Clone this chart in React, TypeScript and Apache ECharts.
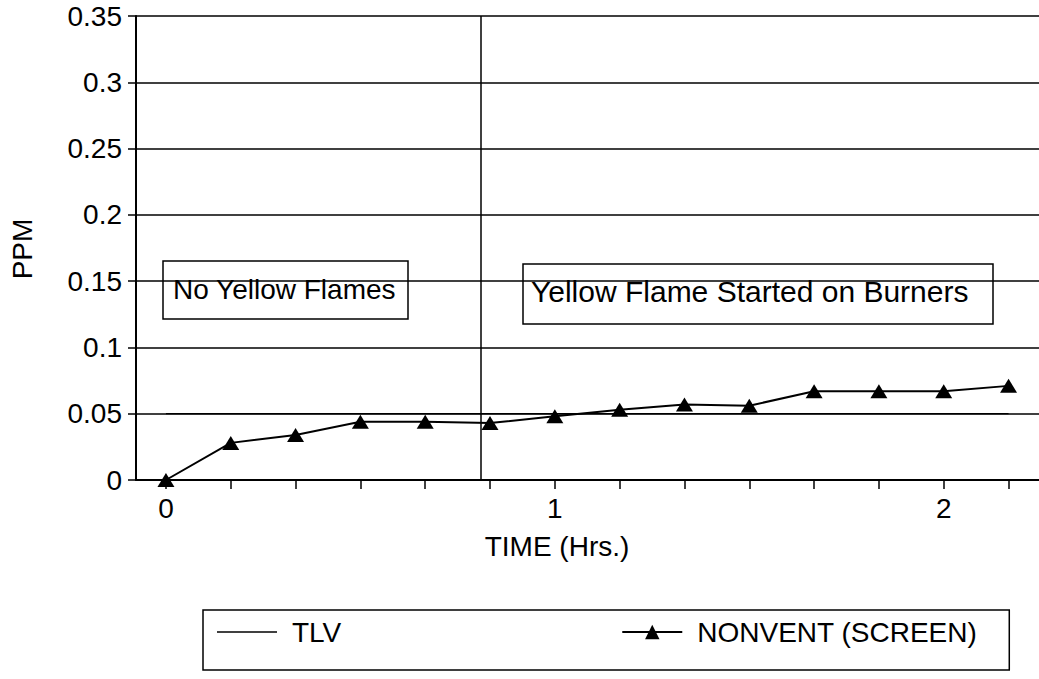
import React, { useEffect, useRef } from "react";
import * as echarts from "echarts";

// Elapsed time in hours (10-minute readings)
const timeHrs = [0, 0.1667, 0.3333, 0.5, 0.6667, 0.8333, 1, 1.1667, 1.3333, 1.5, 1.6667, 1.8333, 2, 2.1667];
// NONVENT (SCREEN) concentration, ppm
const nonventPpm = [0, 0.028, 0.034, 0.044, 0.044, 0.043, 0.048, 0.053, 0.057, 0.056, 0.067, 0.067, 0.067, 0.071];
// Threshold limit value, ppm
const tlvPpm = [0.05, 0.05, 0.05, 0.05, 0.05, 0.05, 0.05, 0.05, 0.05, 0.05, 0.05, 0.05, 0.05, 0.05];
// Time at which the yellow flame started (hrs)
const flameStartHr = 0.81;
// Labelled x ticks
const xLabelValues = [0, 1, 2];
const seriesNames = ["TLV", "NONVENT (SCREEN)"];
const annotations = ["No Yellow Flames", "Yellow Flame Started on Burners"];
const axisTitles = { x: "TIME (Hrs.)", y: "PPM" };

const FONT = "'Liberation Sans', Arial, Helvetica, sans-serif";

export default function App() {
  const ref = useRef<HTMLDivElement>(null);

  useEffect(() => {
    if (!ref.current) return;
    const chart = echarts.init(ref.current, null, { renderer: "svg" });
    const option: any = {
      animation: false,
      backgroundColor: "#fff",
      textStyle: { fontFamily: FONT, color: "#000" },
      grid: { left: 136, right: 0, top: 16, bottom: 199, containLabel: false },
      xAxis: {
        type: "value",
        min: -0.077,
        max: 2.245,
        axisLine: { show: true, onZero: false, lineStyle: { color: "#000", width: 2 } },
        axisTick: {
          show: true,
          customValues: timeHrs,
          length: 9,
          inside: false,
          lineStyle: { color: "#000", width: 1.5 },
        },
        axisLabel: {
          customValues: xLabelValues,
          fontSize: 28,
          color: "#000",
          fontFamily: FONT,
          margin: 14,
          formatter: (v: number) => String(Math.round(v)),
        },
        splitLine: { show: false },
      },
      yAxis: {
        type: "value",
        min: 0,
        max: 0.35,
        interval: 0.05,
        axisLine: { show: true, onZero: false, lineStyle: { color: "#000", width: 2 } },
        axisTick: { show: true, length: 8, inside: false, lineStyle: { color: "#000", width: 1.5 } },
        axisLabel: {
          fontSize: 28,
          color: "#000",
          fontFamily: FONT,
          margin: 14,
          formatter: (v: number) => String(parseFloat(v.toFixed(2))),
        },
        splitLine: { show: true, lineStyle: { color: "#000", width: 1.5 } },
      },
      legend: {
        data: [
          { name: seriesNames[0], icon: "path://M0,0h60v1.4h-60z" },
          { name: seriesNames[1] },
        ],
        left: 203,
        top: 610,
        orient: "horizontal",
        itemWidth: 60,
        itemHeight: 18,
        itemGap: 280,
        padding: [8, 32, 24, 14],
        borderColor: "#000",
        borderWidth: 1.5,
        textStyle: { fontSize: 28, color: "#000", fontFamily: FONT, padding: [0, 0, 0, 10] },
        selectedMode: false,
      },
      series: [
        {
          name: seriesNames[0],
          type: "line",
          data: timeHrs.map((t, i) => [t, tlvPpm[i]]),
          symbol: "none",
          lineStyle: { color: "#000", width: 1.2 },
          itemStyle: { color: "#000" },
          z: 2,
        },
        {
          name: seriesNames[1],
          type: "line",
          data: timeHrs.map((t, i) => [t, nonventPpm[i]]),
          symbol: "triangle",
          symbolSize: [17, 14],
          showSymbol: true,
          lineStyle: { color: "#000", width: 2 },
          itemStyle: { color: "#000" },
          z: 3,
          markLine: {
            silent: true,
            symbol: "none",
            label: { show: false },
            lineStyle: { color: "#000", width: 1.5, type: "solid" },
            data: [{ xAxis: flameStartHr }],
          },
        },
      ],
      graphic: [
        {
          type: "rect",
          shape: { x: 163, y: 261, width: 245, height: 58 },
          style: { fill: "none", stroke: "#000", lineWidth: 1.5 },
          z: 10,
        },
        {
          type: "text",
          x: 173,
          y: 289,
          style: { text: annotations[0], fontSize: 28, fontFamily: FONT, fill: "#000", verticalAlign: "middle", align: "left" },
          z: 10,
        },
        {
          type: "rect",
          shape: { x: 523, y: 264, width: 470, height: 60 },
          style: { fill: "none", stroke: "#000", lineWidth: 1.5 },
          z: 10,
        },
        {
          type: "text",
          x: 531,
          y: 291,
          style: { text: annotations[1], fontSize: 30, fontFamily: FONT, fill: "#000", verticalAlign: "middle", align: "left" },
          z: 10,
        },
        {
          type: "text",
          x: 557,
          y: 546,
          style: { text: axisTitles.x, fontSize: 28, fontFamily: FONT, fill: "#000", verticalAlign: "middle", align: "center" },
        },
        {
          type: "text",
          x: 22,
          y: 249,
          rotation: Math.PI / 2,
          style: { text: axisTitles.y, fontSize: 28, fontFamily: FONT, fill: "#000", verticalAlign: "middle", align: "center" },
        },
      ],
    };
    chart.setOption(option);
    return () => chart.dispose();
  }, []);

  return (
    <div
      ref={ref}
      style={{ position: "fixed", left: 0, top: 0, width: 1039, height: 679, background: "#fff" }}
    />
  );
}
